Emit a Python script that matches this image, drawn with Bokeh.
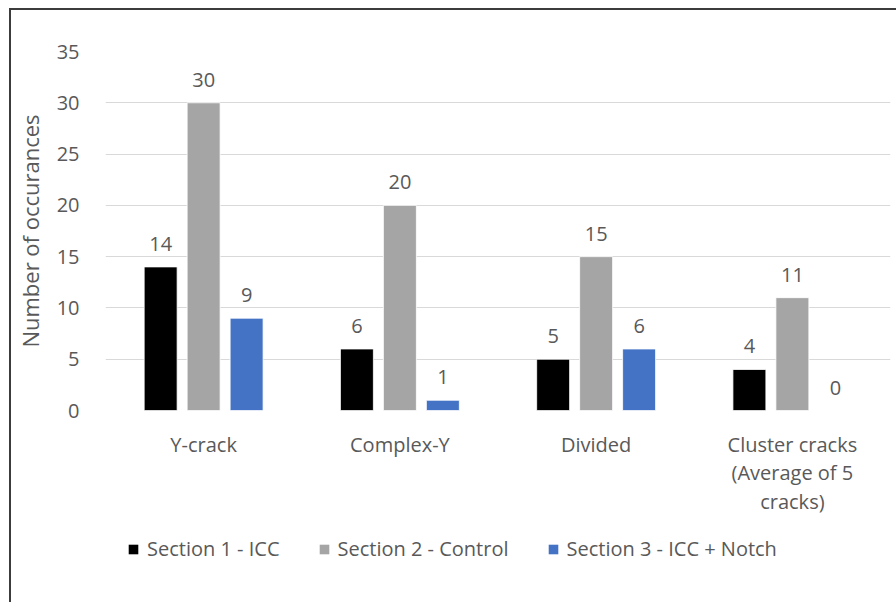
from bokeh.plotting import figure
from bokeh.layouts import column, row
from bokeh.models import (ColumnDataSource, FactorRange, Legend, LegendItem, FixedTicker,
                          Range1d, Spacer)
from bokeh.transform import dodge
from bokeh.core.properties import value
from bokeh.embed import file_html
from bokeh.resources import INLINE

categories = ["Y-crack", "Complex-Y", "Divided", "Cluster cracks\n(Average of 5\ncracks)"]
series_names = ["Section 1 - ICC", "Section 2 - Control", "Section 3 - ICC + Notch"]
section1 = [14, 6, 5, 4]
section2 = [30, 20, 15, 11]
section3 = [9, 1, 6, 0]
y_ticks = [0, 5, 10, 15, 20, 25, 30, 35]

colors = ["#000000", "#A5A5A5", "#4472C4"]
FONT = "Open Sans"
TXT = "#595959"
FS = "20px"

src = ColumnDataSource(dict(cat=categories, s1=section1, s2=section2, s3=section3))

p = figure(x_range=FactorRange(*categories), y_range=Range1d(0, 35),
           width=885, height=508, output_backend="svg", toolbar_location=None,
           min_border_left=89, min_border_right=6, min_border_top=41, min_border_bottom=108)
p.outline_line_color = None
p.background_fill_color = "white"
p.border_fill_color = "white"

offsets = [-0.219, 0.0, 0.219]
cols = ["s1", "s2", "s3"]
for off, col, c in zip(offsets, cols, colors):
    p.vbar(x=dodge("cat", off, range=p.x_range), top=col, width=0.168, source=src,
           fill_color=c, line_color="white", line_width=0.8)
    p.text(x=dodge("cat", off, range=p.x_range), y=col, text=col, source=src,
           text_align="center", text_baseline="middle", y_offset=-23,
           text_font=value(FONT), text_font_size=FS, text_color=TXT)

p.yaxis.ticker = FixedTicker(ticks=y_ticks)
p.ygrid.ticker = FixedTicker(ticks=y_ticks[:-1])
p.ygrid.grid_line_color = "#D9D9D9"
p.ygrid.grid_line_width = 1
p.xgrid.grid_line_color = None

for ax in (p.xaxis, p.yaxis):
    ax.axis_line_color = None
    ax.major_tick_line_color = None
    ax.minor_tick_line_color = None
    ax.major_label_text_font = FONT
    ax.major_label_text_font_size = FS
    ax.major_label_text_color = TXT

p.xaxis.major_label_standoff = 14
p.xaxis.major_label_text_line_height = 1.06
p.yaxis.major_label_standoff = 20
p.yaxis.axis_label = "Number of occurances"
p.yaxis.axis_label_text_font = FONT
p.yaxis.axis_label_text_font_size = "22px"
p.yaxis.axis_label_text_font_style = "normal"
p.yaxis.axis_label_text_color = TXT
p.yaxis.axis_label_standoff = 9

# legend-only figure below the chart (its renderers hold no visible marks)
pl = figure(width=885, height=84, x_range=Range1d(0, 1), y_range=Range1d(0, 1),
            output_backend="svg", toolbar_location=None,
            x_axis_location=None, y_axis_location=None,
            min_border_left=0, min_border_right=0, min_border_top=0, min_border_bottom=0)
pl.outline_line_color = None
pl.grid.grid_line_color = None
leg_renderers = [pl.vbar(x=[0], top=[0], bottom=[0], width=0, fill_color=c, line_color=None)
                 for c in colors]

legend = Legend(items=[LegendItem(label=n, renderers=[r]) for n, r in zip(series_names, leg_renderers)],
                orientation="horizontal", location=(22, 40))
legend.label_text_font = FONT
legend.label_text_font_size = FS
legend.label_text_color = TXT
legend.glyph_width = 12
legend.glyph_height = 12
legend.label_standoff = 8
legend.spacing = 38
legend.padding = 0
legend.margin = 0
legend.border_line_color = None
legend.background_fill_alpha = 0
pl.add_layout(legend, "center")

chart = column(p, pl, styles={"border-top": "2px solid #3c3c3c",
                              "border-left": "2px solid #3c3c3c"})
layout = column(Spacer(width=890, height=8), row(Spacer(width=9, height=10), chart))
open("out.html", "w").write(file_html(layout, INLINE))
